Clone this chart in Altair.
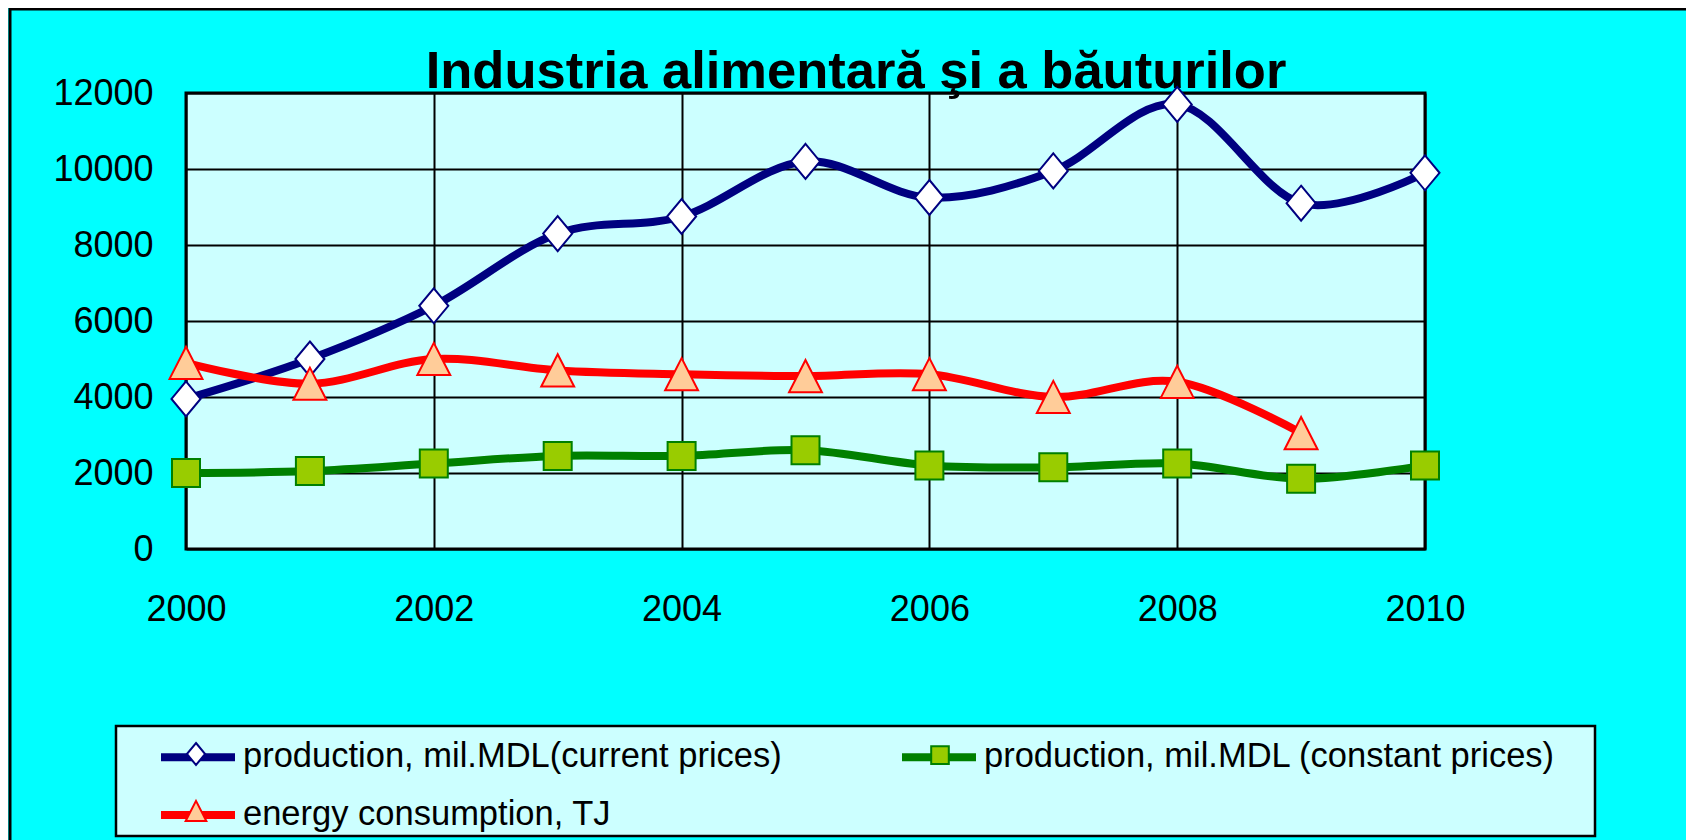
import altair as alt
import pandas as pd

# ---- data ----
years = [2000, 2001, 2002, 2003, 2004, 2005, 2006, 2007, 2008, 2009, 2010]
current_prices = [3950, 5000, 6400, 8300, 8750, 10200, 9250, 9950, 11700, 9100, 9900]
constant_prices = [2000, 2050, 2250, 2450, 2450, 2600, 2200, 2150, 2250, 1850, 2200]
energy_tj = [4900, 4350, 5000, 4700, 4600, 4550, 4600, 4000, 4400, 3050, None]

series_names = [
    "production, mil.MDL(current prices)",
    "production, mil.MDL (constant prices)",
    "energy consumption, TJ",
]
x_ticks = [2000, 2002, 2004, 2006, 2008, 2010]
y_ticks = [0, 2000, 4000, 6000, 8000, 10000, 12000]
title_text = "Industria alimentară şi a băuturilor"

# ---- styles ----
line_colors = ["#000080", "#008000", "#FF0000"]
marker_fills = ["#FFFFFF", "#99CC00", "#FFCC99"]
marker_shapes = [
    "M0,-1L0.83,0L0,1L-0.83,0Z",
    "M-0.8,-0.8L0.8,-0.8L0.8,0.8L-0.8,0.8Z",
    "M0,-0.92L0.94,0.92L-0.94,0.92Z",
]
FONT = "Liberation Sans"

rows = []
for name, vals in zip(series_names, [current_prices, constant_prices, energy_tj]):
    for yr, v in zip(years, vals):
        if v is not None:
            rows.append({"year": yr, "value": v, "series": name, "series_m": name})
df = pd.DataFrame(rows)
deco = pd.DataFrame({"k": [0]})

x_enc = alt.X(
    "year:Q",
    scale=alt.Scale(domain=[2000, 2010], nice=False, zero=False),
    axis=alt.Axis(
        values=x_ticks, format="d", title=None, grid=True, gridColor="black",
        gridWidth=2, gridOpacity=1, ticks=False, tickSize=0, domain=False,
        labelFont=FONT, labelFontSize=36, labelColor="black", labelPadding=43,
        labelFlush=False, labelBaseline="top",
    ),
)
y_enc = alt.Y(
    "value:Q",
    scale=alt.Scale(domain=[0, 12000], nice=False),
    axis=alt.Axis(
        values=y_ticks, format="d", title=None, grid=True, gridColor="black",
        gridWidth=2, gridOpacity=1, ticks=False, tickSize=0, domain=False,
        labelFont=FONT, labelFontSize=36, labelColor="black", labelPadding=33,
    ),
)

LX, LY = -29, 623
line_legend = alt.Legend(
    orient="none", legendX=LX, legendY=LY, columns=2, direction="horizontal",
    title=None, padding=0,
    symbolType="stroke", symbolSize=5476, symbolStrokeWidth=8,
    labelFont=FONT, labelFontSize=34.5, labelColor="black", labelOffset=4,
    labelLimit=1000, columnPadding=104, rowPadding=-6, zindex=1,
)
# marker overlay: symbols only (labels are drawn by the line legend)
marker_legend = alt.Legend(
    orient="none", legendX=LX + 27, legendY=LY + 26, columns=2, direction="horizontal",
    title=None, padding=0,
    symbolSize=484, symbolStrokeWidth=2, symbolOpacity=1,
    labelExpr="''", labelOffset=0, labelLimit=1000,
    columnPadding=716, rowPadding=27, zindex=2,
)

frame = alt.Chart(deco).mark_rect(fill="transparent", stroke="black", strokeWidth=3).encode(
    x=alt.value(-176), y=alt.value(-84), x2=alt.value(3000), y2=alt.value(3000)
)
legend_box = alt.Chart(deco).mark_rect(fill="#CCFFFF", stroke="black", strokeWidth=2.5).encode(
    x=alt.value(-70), y=alt.value(633), x2=alt.value(1409), y2=alt.value(743)
)
title_mark = alt.Chart(deco).mark_text(
    font=FONT, fontSize=52.5, fontWeight="bold", color="black",
    align="center", baseline="alphabetic",
).encode(x=alt.value(670), y=alt.value(-5), text=alt.value(title_text))

lines = alt.Chart(df).mark_line(strokeWidth=8, interpolate="cardinal").encode(
    x=x_enc, y=y_enc,
    color=alt.Color("series:N", scale=alt.Scale(domain=series_names, range=line_colors),
                    legend=line_legend),
)
points = alt.Chart(df).mark_point(filled=True, opacity=1, strokeWidth=2, size=1225).encode(
    x=x_enc, y=y_enc,
    shape=alt.Shape("series_m:N", scale=alt.Scale(domain=series_names, range=marker_shapes),
                    legend=marker_legend),
    fill=alt.Fill("series_m:N", scale=alt.Scale(domain=series_names, range=marker_fills),
                  legend=marker_legend),
    stroke=alt.Stroke("series_m:N", scale=alt.Scale(domain=series_names, range=line_colors),
                      legend=marker_legend),
)

chart = (
    alt.layer(frame, legend_box, title_mark, lines, points)
    .resolve_scale(color="independent")
    .properties(
        width=1239, height=456,
        autosize=alt.AutoSizeParams(type="none"),
        padding={"left": 178, "top": 85, "right": 261, "bottom": 291},
        background="#00FFFF",
    )
    .configure_view(fill="#CCFFFF", stroke="black", strokeWidth=3)
)

chart.save("out.html", embed_options={"renderer": "svg", "actions": False})
